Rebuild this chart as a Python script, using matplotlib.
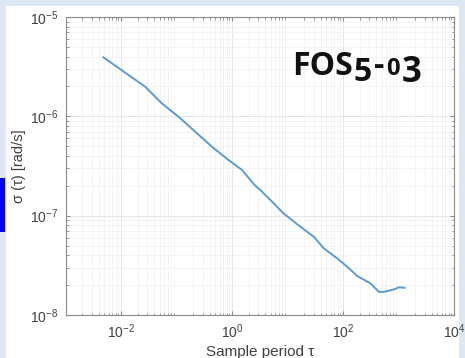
import matplotlib
matplotlib.use("Agg")
import matplotlib.pyplot as plt
from matplotlib.patches import Rectangle

# Allan deviation of the FOS5-03 gyro
tau = [0.00481, 0.0136, 0.0272, 0.0544, 0.1087, 0.218, 0.435, 0.869, 1.52,
       2.56, 3.24, 4.91, 8.54, 17.1, 29.7, 45.0, 78.5, 119.0, 180.0, 313.0,
       443.0, 545.0, 826.0, 1017.0, 1288.0]
sigma = [3.93e-6, 2.61e-6, 1.99e-6, 1.35e-6, 9.9e-7, 7.0e-7, 4.94e-7,
         3.63e-7, 2.88e-7, 2.03e-7, 1.81e-7, 1.44e-7, 1.05e-7, 7.73e-8,
         6.14e-8, 4.69e-8, 3.72e-8, 3.06e-8, 2.47e-8, 2.08e-8, 1.71e-8,
         1.71e-8, 1.81e-8, 1.90e-8, 1.88e-8]

x_limits = (1e-3, 1e4)
y_limits = (1e-8, 1e-5)

plt.rcParams["font.family"] = ["Liberation Sans", "DejaVu Sans"]
plt.rcParams["mathtext.default"] = "regular"
plt.rcParams["axes.unicode_minus"] = False

W, H = 465, 358
fig = plt.figure(figsize=(W / 100, H / 100), dpi=100)
fig.patch.set_facecolor("#dde7f3")

# white slide panel
panel = Rectangle((6 / W, 0), (W - 12) / W, (H - 6) / H,
                  transform=fig.transFigure, facecolor="white",
                  edgecolor="none", zorder=-2)
fig.patches.append(panel)
# blue marker bar at the left edge
bar = Rectangle((0, 1 - 232 / H), 5 / W, 54 / H,
                transform=fig.transFigure, facecolor="#0000ff",
                edgecolor="none", zorder=-1)
fig.patches.append(bar)

ax = fig.add_axes([65.5 / W, 1 - 315 / H, (454 - 65.5) / W, (315 - 17) / H])
ax.set_zorder(2)
ax.set_facecolor("white")
ax.set_xscale("log")
ax.set_yscale("log")
ax.plot(tau, sigma, color="#5b9bd5", lw=1.4)
ax.set_xlim(*x_limits)
ax.set_ylim(*y_limits)
ax.set_xticks([1e-2, 1e0, 1e2, 1e4])
ax.set_yticks([1e-8, 1e-7, 1e-6, 1e-5])

ax.grid(True, which="major", color="#e2e2e2", lw=0.6)
ax.grid(True, which="minor", color="#f0f0f0", lw=0.5)
ax.set_axisbelow(True)
for s in ax.spines.values():
    s.set_color("#8a8a8a")
    s.set_linewidth(0.8)
ax.tick_params(which="both", direction="in", top=True, right=True,
               colors="#8a8a8a", labelcolor="#404040", labelsize=10)
ax.tick_params(which="major", length=3, pad=5)
ax.tick_params(which="minor", length=1.8)

ax.set_xlabel("Sample period τ", fontsize=11, color="#404040", labelpad=3)
ax.set_ylabel("σ (τ) [rad/s]", fontsize=10.5, color="#404040", labelpad=3)

# series title, drawn piecewise to mimic old-style figures
tr = fig.dpi_scale_trans
x0, y0 = 292 / 100, (H - 75) / 100
pieces = [("FOS", 0.0, 23, 0.01), ("5", -0.06, 23, 0.02), ("-", 0.0, 23, 0.02),
          ("0", 0.0, 17, 0.02), ("3", -0.065, 25, 0.0)]
renderer = fig.canvas.get_renderer()
xc = x0
for txt, dy, sz, gap in pieces:
    t = fig.text(xc, y0 + dy, txt, transform=tr, fontsize=sz,
                 fontweight="bold", color="#111111", zorder=5,
                 family=["Open Sans", "DejaVu Sans"], va="baseline")
    bb = t.get_window_extent(renderer=renderer)
    xc += bb.width / 100 + gap

fig.savefig("out.png", dpi=100, facecolor=fig.get_facecolor())
